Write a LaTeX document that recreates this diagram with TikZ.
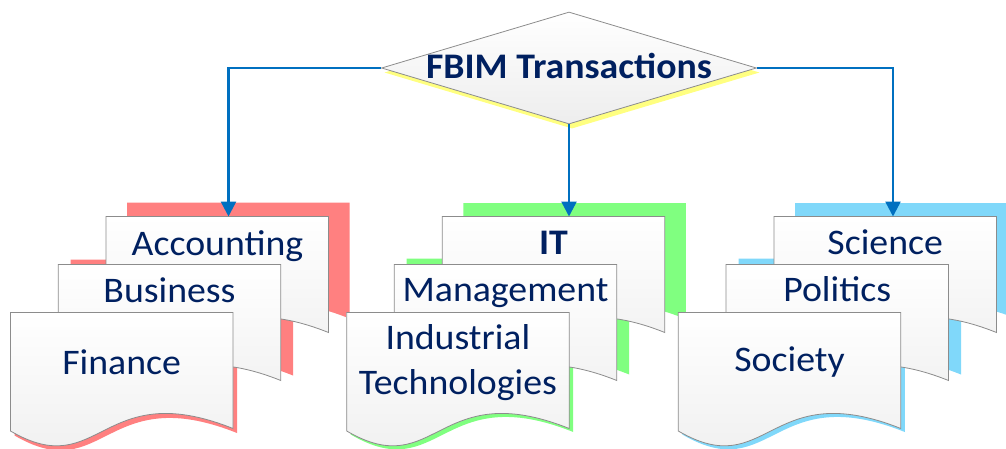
\documentclass[tikz,border=0pt]{standalone}
\usepackage{fontspec}
\setmainfont{Carlito}[FakeStretch=1.05]
\usetikzlibrary{shapes.geometric,arrows.meta,calc}
\definecolor{navy}{RGB}{0,32,96}
\definecolor{arrowblue}{RGB}{0,112,192}
\definecolor{shred}{RGB}{255,128,128}
\definecolor{shgreen}{RGB}{128,255,128}
\definecolor{shblue}{RGB}{128,216,250}
\definecolor{shyellow}{RGB}{255,255,128}
\definecolor{edgegray}{RGB}{140,140,140}
% document shape: #1 x, #2 y (top-left), #3 style
\newcommand\paperpath[3]{%
  \path[#3] (#1,#2) -- ({#1+222.5},#2) -- ({#1+222.5},{#2+116})
    .. controls ({#1+90},{#2+63}) and ({#1+90},{#2+171}) .. (#1,{#2+118.5}) -- cycle;}
\tikzset{
  paper/.style={draw=edgegray, line width=0.8pt, top color=white, bottom color=black!7},
  lbl/.style={text=navy, font=\fontsize{36}{44.7}\selectfont, inner sep=0pt, anchor=base},
  blbl/.style={lbl, font=\fontsize{36}{44.7}\selectfont\bfseries},
  conn/.style={draw=arrowblue, line width=2.5pt, -{Triangle[length=15pt,width=15pt]}},
  decision/.style={diamond, inner sep=0pt, minimum width=375pt, minimum height=112pt},
}
\begin{document}
\begin{tikzpicture}[x=1pt,y=-1pt]
\useasboundingbox (0,0) rectangle (1006,448);
% ---- shadows ----
\paperpath{127}{202.5}{fill=shred}
\paperpath{70.5}{259.5}{fill=shred}
\paperpath{14.5}{317}{fill=shred}
\paperpath{463.3}{203}{fill=shgreen}
\paperpath{406.7}{258.5}{fill=shgreen}
\paperpath{350.7}{316}{fill=shgreen}
\paperpath{795}{203}{fill=shblue}
\paperpath{738.5}{258.5}{fill=shblue}
\paperpath{682.3}{316}{fill=shblue}
% ---- diamond ----
\node[decision, fill=shyellow] (fbimshadow) at (572,72.5) {};
\node[decision, draw=edgegray, line width=0.8pt, top color=white, bottom color=black!7] (fbim) at (569,68) {};
\node[blbl, anchor=center] (fbimtext) at (569,66) {FBIM Transactions};
% ---- documents, group 1 ----
\paperpath{106}{216.5}{paper}
\coordinate (acc) at (228.5,216.5);
\node[lbl] (acctext) at (217.5,255) {Accounting};
\paperpath{58.3}{264.5}{paper}
\node[lbl] (bustext) at (169.5,302.7) {Business};
\paperpath{10.5}{312.5}{paper}
\node[lbl] (fintext) at (121.7,374) {Finance};
% ---- group 2 ----
\paperpath{442.3}{216.5}{paper}
\coordinate (it) at (569,216.5);
\node[blbl] (ittext) at (553.5,254) {IT};
\paperpath{394.3}{264.5}{paper}
\node[lbl] (mantext) at (505.5,301) {Management};
\paperpath{346.7}{312.5}{paper}
\node[lbl] (indtext1) at (457.9,349.3) {Industrial};
\node[lbl] (indtext2) at (457.9,394) {Technologies};
% ---- group 3 ----
\paperpath{774}{216.5}{paper}
\coordinate (sci) at (893,216.5);
\node[lbl] (scitext) at (885.2,254) {Science};
\paperpath{726}{264.5}{paper}
\node[lbl] (poltext) at (837.2,301) {Politics};
\paperpath{678.3}{312.5}{paper}
\node[lbl] (soctext) at (789.5,371.7) {Society};
% ---- connectors ----
\draw[conn] (fbim.west) -| (acc);
\draw[conn] (fbim.south) -- (it);
\draw[conn] (fbim.east) -| (sci);
\end{tikzpicture}
\end{document}
